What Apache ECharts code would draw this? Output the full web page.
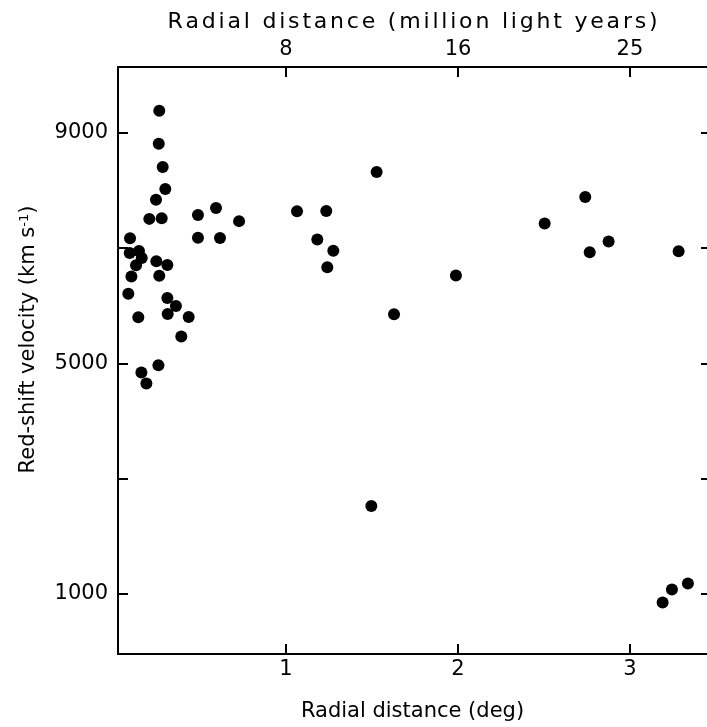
<!DOCTYPE html>
<html>
<head>
<meta charset="utf-8">
<script src="https://cdn.jsdelivr.net/npm/echarts@6/dist/echarts.min.js"></script>
<style>
html,body{margin:0;padding:0;background:#fff;}
#chart{width:707px;height:727px;}
</style>
</head>
<body>
<div id="chart"></div>
<script>
// Radial distance (deg)
var radialDeg = [
  0.263, 0.260, 0.283, 0.298, 0.244, 0.205, 0.277, 0.488, 0.593, 0.727,
  0.093, 0.488, 0.616, 1.064, 0.091, 0.145, 0.161, 0.128, 0.246, 0.310,
  0.101, 0.263, 0.083, 0.310, 0.360, 0.312, 0.141, 0.434, 0.391, 0.258,
  0.159, 0.188, 1.527, 1.234, 1.182, 1.275, 1.240, 1.628, 1.496, 2.740,
  2.504, 2.876, 2.766, 3.283, 1.988, 3.190, 3.244, 3.337
];
// Red-shift velocity (km/s)
var velocity = [
  9380, 8810, 8407, 8023, 7839, 7506, 7518, 7575, 7696, 7467,
  7170, 7179, 7174, 7639, 6915, 6950, 6829, 6702, 6770, 6708,
  6507, 6519, 6209, 6133, 5995, 5857, 5800, 5806, 5468, 4968,
  4841, 4651, 8321, 7644, 7149, 6955, 6667, 5852, 2527, 7885,
  7425, 7115, 6926, 6943, 6524, 855, 1079, 1183
];
var degTicks = [1, 2, 3];
var lightYearLabels = ['8', '16', '25'];
var velTicks = [1000, 3000, 5000, 7000, 9000];
var velLabels = [1000, 5000, 9000];
var topTitle = 'Radial distance (million light years)';

var points = radialDeg.map(function (x, i) { return [x, velocity[i]]; });
// slightly letter-spaced top title (real text split into rich tokens)
var topTitleRich = topTitle.split('').map(function (c) { return '{s|' + c + '}'; }).join('');
var FONT = 'DejaVu Sans';
var chart = echarts.init(document.getElementById('chart'), null, {renderer: 'canvas'});
var axisLineStyle = {color: '#000', width: 2};
chart.setOption({
  animation: false,
  backgroundColor: '#fff',
  grid: {left: 118, right: 0, top: 67, bottom: 69, containLabel: false},
  xAxis: [{
    type: 'value', position: 'bottom', min: 0.023, max: 3.448,
    name: 'Radial distance (deg)', nameLocation: 'middle', nameGap: 47,
    nameTextStyle: {fontFamily: FONT, fontSize: 21, color: '#000'},
    axisLine: {show: true, onZero: false, lineStyle: axisLineStyle},
    axisTick: {show: true, inside: true, length: 10, customValues: degTicks, lineStyle: {color: '#000', width: 2}},
    axisLabel: {customValues: degTicks, fontFamily: FONT, fontSize: 21, color: '#000', margin: 5,
      formatter: function (v) { return String(v); }},
    splitLine: {show: false}
  }, {
    type: 'value', position: 'top', min: 0.023, max: 3.448,
    name: topTitleRich, nameLocation: 'middle', nameGap: 34,
    nameTextStyle: {fontFamily: FONT, fontSize: 22, color: '#000',
      rich: {s: {fontFamily: FONT, fontSize: 22, color: '#000', padding: [0, 1.4, 0, 1.4]}}},
    axisLine: {show: true, onZero: false, lineStyle: axisLineStyle},
    axisTick: {show: true, inside: true, length: 10, customValues: degTicks, lineStyle: {color: '#000', width: 2}},
    axisLabel: {customValues: degTicks, fontFamily: FONT, fontSize: 21, color: '#000', margin: 7,
      formatter: function (v) { var i = degTicks.indexOf(v); return i >= 0 ? lightYearLabels[i] : ''; }},
    splitLine: {show: false}
  }],
  yAxis: [{
    type: 'value', position: 'left', min: -40, max: 10140,
    name: 'Red-shift velocity (km s{sup|-1})', nameLocation: 'middle', nameGap: 78, nameRotate: 90,
    nameTextStyle: {fontFamily: FONT, fontSize: 21, color: '#000', padding: [0, 0, 0, 42],
      rich: {sup: {fontFamily: FONT, fontSize: 13, color: '#000', verticalAlign: 'top', padding: [0, 0, 9, 0]}}},
    axisLine: {show: true, onZero: false, lineStyle: axisLineStyle},
    axisTick: {show: true, inside: true, length: 10, customValues: velTicks, lineStyle: {color: '#000', width: 2}},
    axisLabel: {customValues: velLabels, fontFamily: FONT, fontSize: 21, color: '#000', margin: 10,
      formatter: function (v) { return String(v); }},
    splitLine: {show: false}
  }, {
    type: 'value', position: 'right', min: -40, max: 10140,
    axisLine: {show: false},
    axisTick: {show: true, inside: true, length: 6, customValues: velTicks, lineStyle: {color: '#000', width: 2}},
    axisLabel: {show: false},
    splitLine: {show: false}
  }],
  series: [{
    type: 'scatter', xAxisIndex: 0, yAxisIndex: 0,
    data: points, symbol: 'circle', symbolSize: 12,
    itemStyle: {color: '#000', opacity: 1}
  }]
});
</script>
</body>
</html>
